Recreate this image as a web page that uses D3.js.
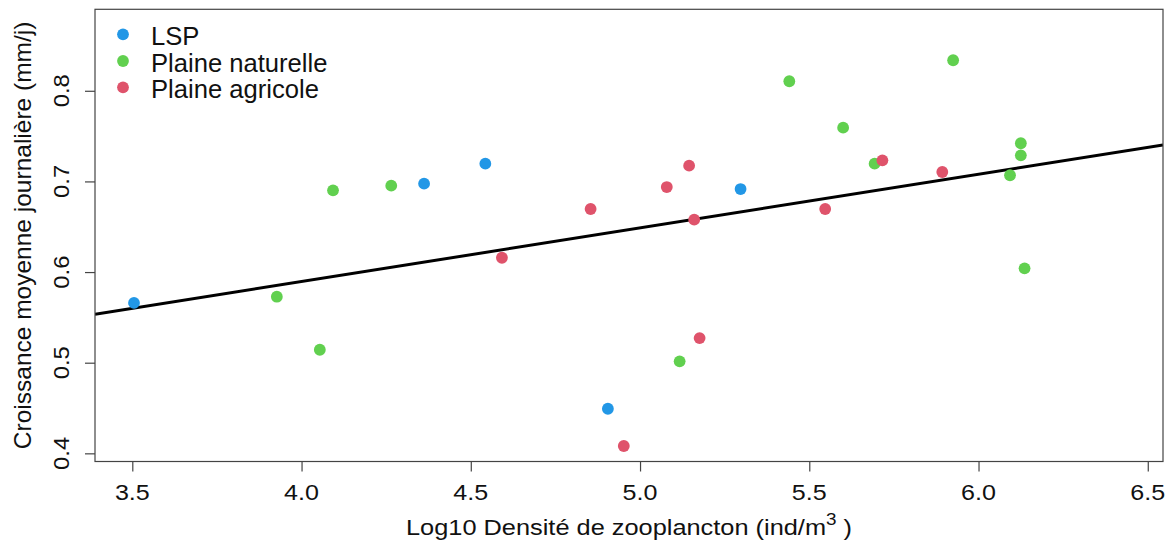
<!DOCTYPE html>
<html>
<head>
<meta charset="utf-8">
<script src="https://cdn.jsdelivr.net/npm/d3@7"></script>
<style>
  html, body { margin: 0; padding: 0; background: #fff; }
  svg { display: block; font-family: "Liberation Sans", Arial, Helvetica, sans-serif; }
</style>
</head>
<body>
<svg id="chart" width="1167" height="541"></svg>
<script>
// ---- data ----
const seriesNames = ["LSP", "Plaine naturelle", "Plaine agricole"];
const seriesColors = ["#2297E6", "#61D04F", "#DF536B"];

const lspX = [3.505, 4.362, 4.543, 4.905, 5.297];
const lspY = [0.566, 0.6975, 0.7196, 0.4492, 0.6916];

const natX = [3.927, 4.054, 4.093, 4.265, 5.117, 5.441, 5.600, 5.693, 5.925, 6.125, 6.125, 6.093, 6.136];
const natY = [0.5728, 0.5143, 0.6902, 0.6953, 0.5015, 0.8105, 0.7593, 0.7196, 0.8337, 0.7421, 0.7288, 0.7068, 0.6041];

const agrX = [4.592, 4.854, 4.952, 5.079, 5.145, 5.160, 5.176, 5.547, 5.716, 5.893];
const agrY = [0.6158, 0.6696, 0.4081, 0.6938, 0.7174, 0.6578, 0.5272, 0.6696, 0.7233, 0.7104];

// linear fit shown in the chart
const fitIntercept = 0.3526;
const fitSlope = 0.05923;

const xTicks = [3.5, 4.0, 4.5, 5.0, 5.5, 6.0, 6.5];
const yTicks = [0.4, 0.5, 0.6, 0.7, 0.8];
const xDomain = [3.3898, 6.545];
const yDomain = [0.391, 0.8899];

const xTitle = "Log10 Densité de zooplancton (ind/m";
const xTitleSup = "3";
const xTitleEnd = " )";
const yTitle = "Croissance moyenne journalière (mm/j)";

// ---- layout ----
const plot = { left: 95, right: 1163, top: 9.3, bottom: 461.5 };
const svg = d3.select("#chart");

const x = d3.scaleLinear().domain(xDomain).range([plot.left, plot.right]);
const y = d3.scaleLinear().domain(yDomain).range([plot.bottom, plot.top]);

const groups = [
  { name: seriesNames[0], color: seriesColors[0], xs: lspX, ys: lspY },
  { name: seriesNames[1], color: seriesColors[1], xs: natX, ys: natY },
  { name: seriesNames[2], color: seriesColors[2], xs: agrX, ys: agrY }
];

// axes (ticks only, labels drawn separately for R-like styling)
const xAxis = d3.axisBottom(x).tickValues(xTicks).tickSize(10).tickFormat("");
const yAxis = d3.axisLeft(y).tickValues(yTicks).tickSize(10).tickFormat("");

const gx = svg.append("g").attr("transform", `translate(0,${plot.bottom})`).call(xAxis);
const gy = svg.append("g").attr("transform", `translate(${plot.left},0)`).call(yAxis);
[gx, gy].forEach(g => {
  g.select(".domain").remove();
  g.selectAll(".tick line").attr("stroke", "#444").attr("stroke-width", 1.2);
});

// x tick labels
svg.append("g").selectAll("text").data(xTicks).join("text")
  .attr("transform", d => `translate(${x(d)},499.5) scale(1.14,1)`)
  .attr("text-anchor", "middle")
  .attr("font-size", 22)
  .attr("fill", "#111")
  .text(d => d.toFixed(1));

// y tick labels (rotated, parallel to the axis)
svg.append("g").selectAll("text").data(yTicks).join("text")
  .attr("transform", d => `translate(69.3,${y(d)}) rotate(-90) scale(1.06,1)`)
  .attr("text-anchor", "middle")
  .attr("font-size", 22.5)
  .attr("fill", "#111")
  .text(d => d.toFixed(1));

// axis titles
const xt = svg.append("text")
  .attr("transform", `translate(${(plot.left + plot.right) / 2},535) scale(1.18,1)`)
  .attr("text-anchor", "middle")
  .attr("font-size", 21.5)
  .attr("fill", "#111");
xt.append("tspan").text(xTitle);
xt.append("tspan").attr("font-size", 16).attr("dy", -10).text(xTitleSup);
xt.append("tspan").attr("dy", 10).text(xTitleEnd);

svg.append("text")
  .attr("transform", `translate(30.5,${(plot.top + plot.bottom) / 2}) rotate(-90)`)
  .attr("text-anchor", "middle")
  .attr("font-size", 24.5)
  .attr("fill", "#111")
  .text(yTitle);

// regression line
svg.append("clipPath").attr("id", "plotclip").append("rect")
  .attr("x", plot.left).attr("y", plot.top)
  .attr("width", plot.right - plot.left).attr("height", plot.bottom - plot.top);

svg.append("line")
  .attr("clip-path", "url(#plotclip)")
  .attr("x1", x(xDomain[0])).attr("y1", y(fitIntercept + fitSlope * xDomain[0]))
  .attr("x2", x(xDomain[1])).attr("y2", y(fitIntercept + fitSlope * xDomain[1]))
  .attr("stroke", "#000").attr("stroke-width", 3);

// points
groups.forEach(g => {
  svg.append("g").selectAll("circle").data(g.xs.map((v, i) => [v, g.ys[i]])).join("circle")
    .attr("cx", d => x(d[0]))
    .attr("cy", d => y(d[1]))
    .attr("r", 5.9)
    .attr("fill", g.color);
});

// plot box
svg.append("rect")
  .attr("x", plot.left).attr("y", plot.top)
  .attr("width", plot.right - plot.left).attr("height", plot.bottom - plot.top)
  .attr("fill", "none").attr("stroke", "#444").attr("stroke-width", 1.2);

// legend
const legendY = [34.3, 61, 87.3];
const lg = svg.append("g");
groups.forEach((g, i) => {
  lg.append("circle").attr("cx", 123).attr("cy", legendY[i]).attr("r", 5.9).attr("fill", g.color);
  lg.append("text").attr("x", 151).attr("y", legendY[i] + 10.7)
    .attr("font-size", 25.6).attr("fill", "#111").text(g.name);
});
</script>
</body>
</html>
